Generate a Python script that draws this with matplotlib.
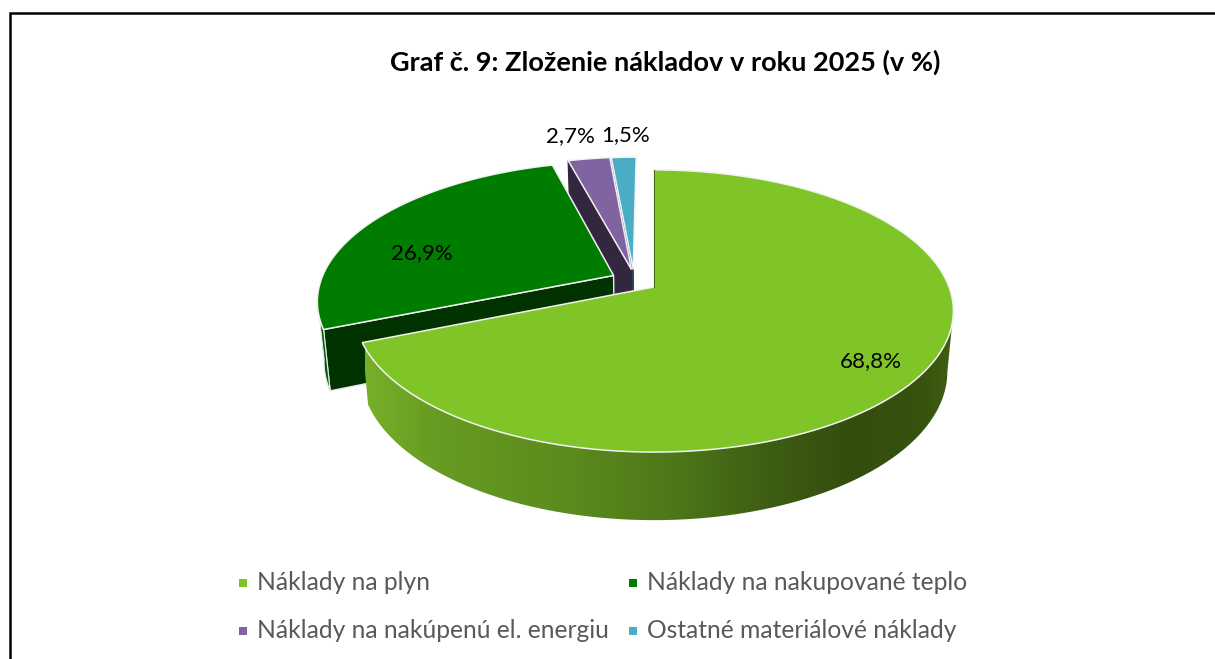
import numpy as np
import matplotlib
matplotlib.use("Agg")
import matplotlib.pyplot as plt
from matplotlib.patches import Polygon

title = "Graf č. 9: Zloženie nákladov v roku 2025 (v %)"
categories = ["Náklady na plyn", "Náklady na nakupované teplo",
              "Náklady na nakúpenú el. energiu", "Ostatné materiálové náklady"]
values = [68.8, 26.9, 2.7, 1.5]
value_labels = ["68,8%", "26,9%", "2,7%", "1,5%"]

top_colors = ["#7FC527", "#007C00", "#8064A2", "#4BACC6"]
face_colors = ["#3f6113", "#003300", "#33263F", "#1f5060"]

# explode offsets on the unit disc
offsets = [(0, 0), (-0.139, -0.085), (-0.078, -0.13), (-0.072, -0.13)]
label_pos = [(871, 361), (422, 253), (570, 136), (626, 135)]
legend_pos = [(243, 583), (633, 583), (243, 631), (633, 631)]

# pie geometry in pixels
cx, cy = 654, 287
a, b, k = 295, 137, 0.17
bottom_dy, bottom_sx, bottom_sy = 59, 0.98, 1.055

# side wall shading of the big slice
shade_x = [365, 430, 560, 660, 760, 850, 920, 955]
shade_rgb = np.array([[0x78, 0xB0, 0x28], [0x68, 0x9C, 0x22], [0x5C, 0x8C, 0x1E], [0x50, 0x7A, 0x1A],
                      [0x3F, 0x60, 0x14], [0x33, 0x4D, 0x0E], [0x36, 0x52, 0x0F], [0x40, 0x60, 0x12]]) / 255


def project(u, v, bottom=False):
    u, v = np.asarray(u, float), np.asarray(v, float)
    d = 1 - k * v
    if bottom:
        return cx + bottom_sx * a * u / d, cy + bottom_dy + bottom_sy * b * v / d
    return cx + a * u / d, cy + b * v / d


def rim(t0, t1, off):
    t = np.radians(np.linspace(t0, t1, max(int(t1 - t0) * 2, 8)))
    return np.sin(t) + off[0], -np.cos(t) + off[1], -np.cos(t) > k


def face(ax, pts, color, edge=None, lw=0.0, z=1):
    return ax.add_patch(Polygon(pts, closed=True, facecolor=color, edgecolor=edge or color, lw=lw, zorder=z))


fig = plt.figure(figsize=(12.15, 6.59), dpi=100)
ax = fig.add_axes([0, 0, 1, 1])
ax.axis("off")

# frame
ax.plot([10, 10, 1215], [659, 13, 13], color="black", lw=1.8, solid_joinstyle="miter", zorder=0)

angles = np.concatenate([[0], np.cumsum(values)]) * 3.6
angles[-1] = 360

# back to front: teal, purple, green, big slice
z = 1
for i in [3, 2, 1, 0]:
    t0, t1 = angles[i], angles[i + 1]
    off = offsets[i]
    u, v, front = rim(t0, t1, off)
    xt, yt = project(u, v)
    xb, yb = project(u, v, bottom=True)
    ax_t, ay_t = project(off[0], off[1])
    ax_b, ay_b = project(off[0], off[1], bottom=True)

    # cut face at the start of the slice, the only one that can be seen
    if i != 0:
        face(ax, [(ax_t, ay_t), (xt[0], yt[0]), (xb[0], yb[0]), (ax_b, ay_b)], face_colors[i],
             edge="#e8e8e8" if i == 1 else None, lw=1.0, z=z)
    z += 1

    # outer wall, only the part that faces the viewer
    if front.any():
        pts = np.r_[np.c_[xt[front], yt[front]], np.c_[xb[front], yb[front]][::-1]]
        if i == 0:
            patch = face(ax, pts, "none", edge="none", z=z)
            grad_x = np.linspace(shade_x[0], shade_x[-1], 300)
            grad = np.dstack([np.interp(grad_x, shade_x, shade_rgb[:, c]) for c in range(3)])
            im = ax.imshow(grad, extent=(shade_x[0], shade_x[-1], 560, 300), aspect="auto", zorder=z)
            im.set_clip_path(patch)
        else:
            face(ax, pts, "#005a00", edge="#e8e8e8", lw=0.8, z=z)
    z += 1

    # top surface
    pts = np.r_[[(ax_t, ay_t)], np.c_[xt, yt]]
    face(ax, pts, top_colors[i], edge="#f2f2f2", lw=1.1, z=z)
    z += 1

ax.plot(*project([0, 0], [0, -1]), color=face_colors[0], lw=0.7, zorder=z)

ax.set_xlim(0, 1215)
ax.set_ylim(659, 0)

ax.text(665, 62, title, ha="center", va="center", fontsize=19.5, family="Lato", weight="bold", color="black")

for lab, (x, y) in zip(value_labels, label_pos):
    ax.text(x, y, lab, ha="center", va="center", fontsize=16, family="Lato", color="black", zorder=50)

for name, col, (x, y) in zip(categories, top_colors, legend_pos):
    ax.scatter([x], [y], s=38, marker="s", color=col, linewidths=0, zorder=50)
    ax.text(x + 14, y, name, ha="left", va="center", fontsize=17.7, family="Lato", color="#595959", zorder=50)

fig.savefig("out.png", dpi=100)
